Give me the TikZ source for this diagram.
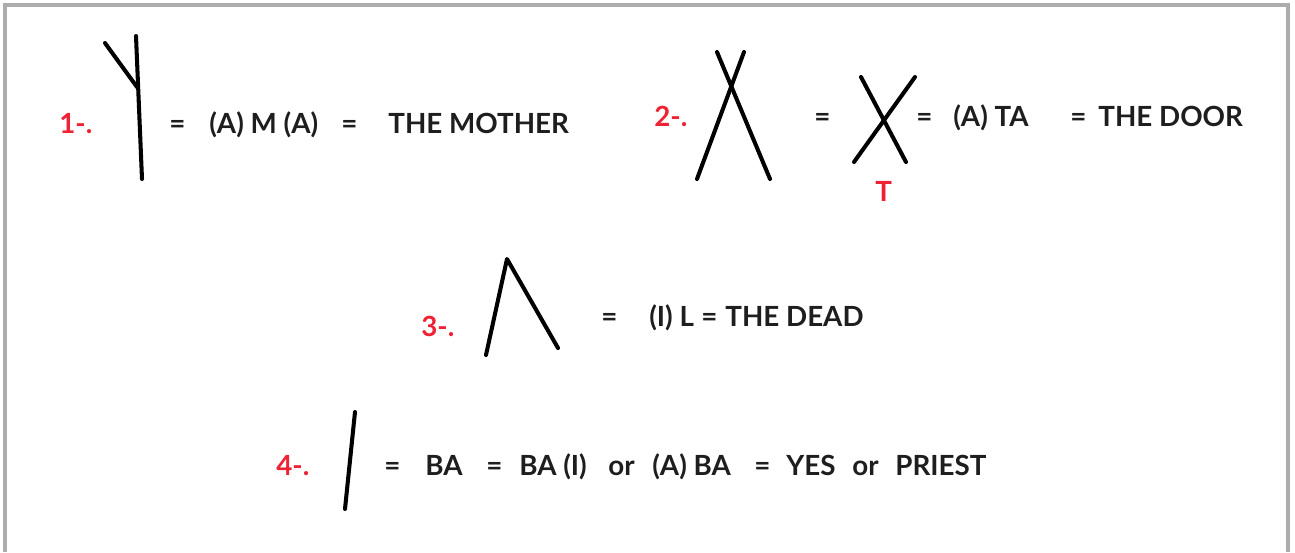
\documentclass[tikz,border=0pt]{standalone}
\usepackage{fontspec}
\setmainfont{Lato}
\usetikzlibrary{positioning}
\definecolor{numred}{RGB}{238,34,52}
\definecolor{inkgray}{RGB}{30,30,30}
\tikzset{
  numlabel/.style={text=numred, font=\fontsize{15.8}{18}\selectfont\bfseries, inner sep=0pt, anchor=base west},
  gloss/.style={text=inkgray, font=\fontsize{15.8}{18}\selectfont\bfseries, inner sep=0pt, anchor=base west},
  rune/.style={draw=black, line width=2.3pt, line cap=round, line join=round},
  frameline/.style={draw=gray!65, line width=2.5pt}
}
\begin{document}
\begin{tikzpicture}[x=0.02cm, y=-0.02cm]
  \useasboundingbox (0,0) rectangle (1295,552);
  \draw[frameline] (5,552) -- (5,5) -- (1288,5) -- (1288,552);

  % row 1
  \node[numlabel] (n1) at (59,133) {1-.};
  \coordinate (m1) at (136,36); \coordinate (m2) at (142,179);
  \coordinate (m3) at (137,87); \coordinate (m4) at (105,43);
  \draw[rune] (m1) -- (m2); \draw[rune] (m3) -- (m4);
  \node[gloss] (e11) at (169,133) {=};
  \node[gloss] (t11) at (209,133) {(A) M (A)};
  \node[gloss] (e12) at (341,133) {=};
  \node[gloss] (t12) at (388,133) {THE MOTHER};

  % row 2
  \node[numlabel] (n2) at (654,126) {2-.};
  \coordinate (x1) at (697,179); \coordinate (x2) at (744,52);
  \coordinate (x3) at (717,52); \coordinate (x4) at (770,179);
  \draw[rune] (x1) -- (x2); \draw[rune] (x3) -- (x4);
  \node[gloss] (e21) at (814,126) {=};
  \coordinate (y1) at (854,162); \coordinate (y2) at (915,77);
  \coordinate (y3) at (861,77); \coordinate (y4) at (906,162);
  \draw[rune] (y1) -- (y2); \draw[rune] (y3) -- (y4);
  \node[numlabel] (tt) at (875,201) {T};
  \node[gloss] (e22) at (916,126) {=};
  \node[gloss] (t21) at (953,126) {(A) TA};
  \node[gloss] (e23) at (1070,126) {=};
  \node[gloss] (t22) at (1098,126) {THE DOOR};

  % row 3
  \node[numlabel] (n3) at (421,336) {3-.};
  \coordinate (l1) at (486,355); \coordinate (l2) at (507,259);
  \coordinate (l3) at (558,348);
  \draw[rune] (l1) -- (l2) -- (l3);
  \node[gloss] (e31) at (601,326) {=};
  \node[gloss] (t31) at (649,326) {(I) L};
  \node[gloss] (e32) at (701,326) {=};
  \node[gloss] (t32) at (725,326) {THE DEAD};

  % row 4
  \node[numlabel] (n4) at (276,475) {4-.};
  \coordinate (b1) at (345,509); \coordinate (b2) at (355,412);
  \draw[rune] (b1) -- (b2);
  \node[gloss] (e41) at (384,475) {=};
  \node[gloss] (t41) at (425,475) {BA};
  \node[gloss] (e42) at (486,475) {=};
  \node[gloss] (t42) at (519,475) {BA (I)};
  \node[gloss] (o41) at (608,475) {or};
  \node[gloss] (t43) at (652,475) {(A) BA};
  \node[gloss] (e43) at (754,475) {=};
  \node[gloss] (t44) at (786,475) {YES};
  \node[gloss] (o42) at (852,475) {or};
  \node[gloss] (t45) at (895,475) {PRIEST};
\end{tikzpicture}
\end{document}
